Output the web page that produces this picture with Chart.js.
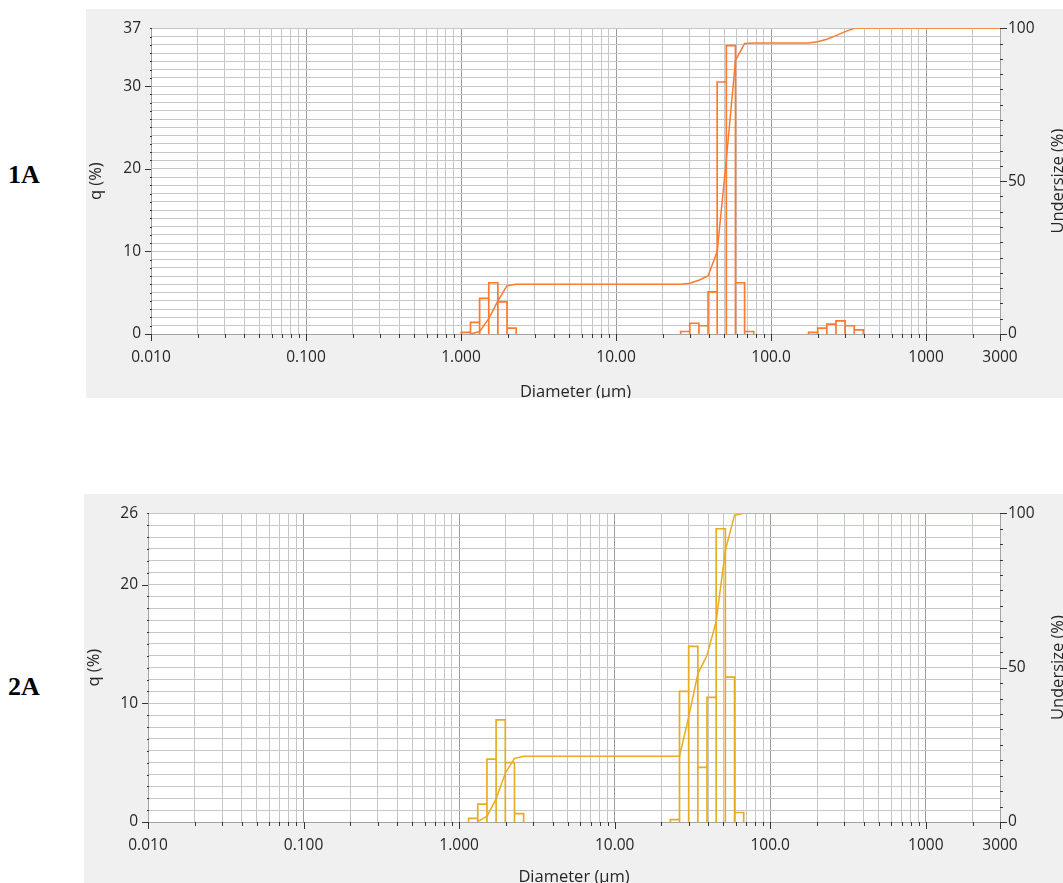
<!DOCTYPE html>
<html>
<head>
<meta charset="utf-8">
<script src="https://cdn.jsdelivr.net/npm/chart.js@4.4.1/dist/chart.umd.min.js"></script>
<style>
  body { margin: 0; background: #fff; width: 1063px; height: 883px; overflow: hidden; position: relative; }
  .panel { position: absolute; background: #f0f0f0; overflow: hidden; }
  .panel canvas { display: block; }
  .tag { position: absolute; font: bold 26px "Liberation Serif", serif; color: #000; }
</style>
</head>
<body>
<div class="tag" style="left:8px; top:160px">1A</div>
<div class="panel" style="left:86px; top:9px; width:977px; height:389px">
  <canvas id="chart1" width="977" height="389"></canvas>
</div>
<div class="tag" style="left:8px; top:672px">2A</div>
<div class="panel" style="left:84px; top:494px; width:979px; height:389px">
  <canvas id="chart2" width="979" height="389"></canvas>
</div>
<script>
// x axis: labelled diameters (µm)
let xTickValues = [0.01, 0.1, 1, 10, 100, 1000, 3000];
let xTickLabels = ["0.010", "0.100", "1.000", "10.00", "100.0", "1000", "3000"];
let undersizeLabels = [0, 50, 100];

// sample 1A: channel edges (µm) and frequency q (%)
let bins1Lo = [1.005, 1.151, 1.318, 1.510, 1.729, 1.981,
  26.111, 29.907, 34.255, 39.234, 44.938, 51.471, 58.953, 67.523,
  174.62, 200.00, 229.07, 262.37, 300.52, 344.21];
let bins1Hi = [1.151, 1.318, 1.510, 1.729, 1.981, 2.269,
  29.907, 34.255, 39.234, 44.938, 51.471, 58.953, 67.523, 77.339,
  200.00, 229.07, 262.37, 300.52, 344.21, 394.24];
let q1 = [0.2, 1.4, 4.3, 6.2, 3.9, 0.7,
  0.3, 1.3, 1.0, 5.1, 30.5, 34.9, 6.2, 0.3,
  0.2, 0.7, 1.2, 1.6, 1.0, 0.5];
// sample 1A: cumulative undersize (%)
let size1 = [1.151, 1.318, 1.510, 1.729, 1.981, 2.269, 26.111, 29.907, 34.255, 39.234,
  44.938, 51.471, 58.953, 67.523, 77.339, 174.62, 200.00, 229.07, 262.37, 300.52, 344.21, 3000];
let under1 = [0, 0.8, 5.0, 10.8, 15.8, 16.3, 16.3, 16.6, 17.6, 19.0,
  27.0, 57.0, 89.5, 95.0, 95.2, 95.2, 95.6, 96.4, 97.6, 98.9, 100, 100];
let q1Labels = [0, 10, 20, 30, 37];

// sample 2A
let bins2Lo = [1.151, 1.318, 1.510, 1.729, 1.981, 2.269,
  22.797, 26.111, 29.907, 34.255, 39.234, 44.938, 51.471, 58.953];
let bins2Hi = [1.318, 1.510, 1.729, 1.981, 2.269, 2.599,
  26.111, 29.907, 34.255, 39.234, 44.938, 51.471, 58.953, 67.523];
let q2 = [0.3, 1.5, 5.3, 8.6, 5.0, 0.7,
  0.2, 11.0, 14.8, 4.6, 10.5, 24.7, 12.2, 0.8];
let size2 = [1.318, 1.510, 1.729, 1.981, 2.269, 2.599, 26.111, 29.907, 34.255,
  39.234, 44.938, 51.471, 58.953, 67.523, 3000];
let under2 = [0.2, 1.8, 7.5, 15.8, 20.6, 21.3, 21.3, 34.0, 48.0,
  54.0, 65.0, 88.0, 99.4, 100, 100];
let q2Labels = [0, 10, 20, 26];

Chart.defaults.font.family = '"Open Sans", sans-serif';
Chart.defaults.color = "#262626";

// gridline positions 1..9 per decade on the log axis
let xGrid = [];
for (let e = -2; e <= 3; e++) {
  for (let k = 1; k <= 9; k++) {
    let v = k * Math.pow(10, e);
    if (v <= 3000 * 1.0001) xGrid.push(v);
  }
}

function xLabel(value) {
  let i = xTickValues.findIndex((v) => Math.abs(v - value) < v * 1e-6);
  return i >= 0 ? xTickLabels[i] : "";
}

// outline of each histogram bar, broken between bars
function histPoints(lo, hi, q) {
  let pts = [];
  lo.forEach((a, i) => {
    pts.push({ x: a, y: 0 }, { x: a, y: q[i] }, { x: hi[i], y: q[i] }, { x: hi[i], y: 0 }, { x: hi[i], y: null });
  });
  return pts;
}

// white plot area, tick marks and the right-hand title
const axisMarks = {
  id: "axisMarks",
  beforeDraw(chart) {
    const { ctx, chartArea: a } = chart;
    ctx.save();
    ctx.fillStyle = "#ffffff";
    ctx.fillRect(a.left, a.top, a.width, a.height);
    ctx.restore();
  },
  afterDraw(chart, args, opts) {
    const { ctx, chartArea: a, scales } = chart;
    const seg = (x1, y1, x2, y2) => {
      ctx.beginPath();
      ctx.moveTo(x1, y1);
      ctx.lineTo(x2, y2);
      ctx.stroke();
    };
    ctx.save();
    ctx.strokeStyle = "#333";
    ctx.lineWidth = 1;
    scales.x.ticks.forEach((t) => {
      let px = Math.round(scales.x.getPixelForValue(t.value)) + 0.5;
      seg(px, a.bottom, px, a.bottom + (t.label ? 7 : 4));
    });
    scales.y.ticks.forEach((t) => {
      let py = Math.round(scales.y.getPixelForValue(t.value)) + 0.5;
      if (t.label !== "" && t.value < scales.y.max) seg(a.left - 6, py, a.left, py);
      else seg(a.left - 1, py, a.left + 1, py);
    });
    scales.y2.ticks.forEach((t) => {
      let py = Math.round(scales.y2.getPixelForValue(t.value)) + 0.5;
      seg(a.right, py, a.right + (t.label !== "" ? 7 : 3), py);
    });
    ctx.fillStyle = "#262626";
    ctx.font = '16.5px "Open Sans", sans-serif';
    ctx.textAlign = "center";
    ctx.textBaseline = "middle";
    ctx.translate(chart.width - 5, (a.top + a.bottom) / 2);
    ctx.rotate(-Math.PI / 2);
    ctx.fillText(opts.rightTitle, 0, 0);
    ctx.restore();
  },
};

function makeChart(id, s) {
  let qTicks = [];
  for (let v = 0; v <= s.qMax; v++) qTicks.push(v);
  let uTicks = [];
  for (let v = 0; v <= 100; v += 5) uTicks.push(v);

  const data = {
    datasets: [
      {
        label: "q",
        data: histPoints(s.lo, s.hi, s.q),
        borderColor: s.color,
        borderWidth: 1.7,
        pointRadius: 0,
        tension: 0,
        spanGaps: false,
        yAxisID: "y",
      },
      {
        label: "Undersize",
        data: s.size.map((d, i) => ({ x: d, y: s.under[i] })),
        borderColor: s.color,
        borderWidth: 1.5,
        pointRadius: 0,
        tension: 0,
        yAxisID: "y2",
      },
    ],
  };

  const options = {
    responsive: false,
    animation: false,
    events: [],
    layout: { padding: { top: 17, left: 0, right: 0, bottom: 0 } },
    plugins: {
      legend: { display: false },
      tooltip: { enabled: false },
      axisMarks: { rightTitle: "Undersize (%)" },
    },
    scales: {
      x: {
        type: "logarithmic",
        min: 0.01,
        max: 3000,
        afterBuildTicks: (scale) => {
          scale.ticks = xGrid.map((v) => ({ value: v }));
        },
        afterFit: (scale) => {
          scale.height = s.xHeight;
        },
        ticks: {
          autoSkip: false,
          maxRotation: 0,
          padding: 14,
          font: { size: 15.5 },
          callback: (value) => xLabel(value),
        },
        grid: {
          drawTicks: false,
          color: (c) => (c.tick && xLabel(c.tick.value) !== "" ? "#9c9c9c" : "#c6c6c6"),
        },
        border: { color: "#a4a4a4" },
        title: {
          display: true,
          text: "Diameter (µm)",
          font: { size: 16.5 },
          padding: { top: 0, bottom: -4 },
        },
      },
      y: {
        position: "left",
        min: 0,
        max: s.qMax,
        afterBuildTicks: (scale) => {
          scale.ticks = qTicks.map((v) => ({ value: v }));
        },
        afterFit: (scale) => {
          scale.width = s.yWidth;
        },
        ticks: {
          autoSkip: false,
          padding: 10,
          font: { size: 15.5 },
          callback: (value) => (s.qLabels.includes(value) ? String(value) : ""),
        },
        grid: { drawTicks: false, color: "#c6c6c6" },
        border: { color: "#a4a4a4" },
        title: {
          display: true,
          text: "q (%)",
          font: { size: 16.5 },
          padding: { top: 0, bottom: 0 },
        },
      },
      y2: {
        position: "right",
        min: 0,
        max: 100,
        afterBuildTicks: (scale) => {
          scale.ticks = uTicks.map((v) => ({ value: v }));
        },
        afterFit: (scale) => {
          scale.width = s.y2Width;
        },
        ticks: {
          autoSkip: false,
          padding: 8,
          font: { size: 15.5 },
          callback: (value) => (undersizeLabels.includes(value) ? String(value) : ""),
        },
        grid: { drawTicks: false, drawOnChartArea: false },
        border: { color: "#a4a4a4" },
      },
    },
  };

  return new Chart(document.getElementById(id), {
    type: "line",
    data: data,
    options: options,
    plugins: [axisMarks],
  });
}

makeChart("chart1", {
  color: "#ff7a2e",
  qMax: 37,
  qLabels: q1Labels,
  lo: bins1Lo,
  hi: bins1Hi,
  q: q1,
  size: size1,
  under: under1,
  yWidth: 65,
  y2Width: 63,
  xHeight: 64,
});

makeChart("chart2", {
  color: "#e6ad22",
  qMax: 26,
  qLabels: q2Labels,
  lo: bins2Lo,
  hi: bins2Hi,
  q: q2,
  size: size2,
  under: under2,
  yWidth: 64,
  y2Width: 63,
  xHeight: 61,
});
</script>
</body>
</html>
